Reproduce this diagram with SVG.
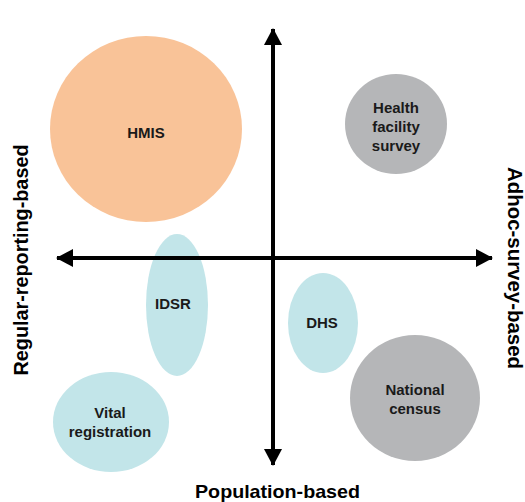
<svg xmlns="http://www.w3.org/2000/svg" width="525" height="502" viewBox="0 0 525 502">
<defs>
<marker id="ah" markerUnits="userSpaceOnUse" markerWidth="17" markerHeight="18" refX="16" refY="9" orient="auto-start-reverse">
<path d="M0,0 L17,9 L0,18 Z" fill="#000"/>
</marker>
</defs>
<style>
text{font-family:"Liberation Sans",Arial,sans-serif;font-weight:bold;fill:#1a1a1a;text-anchor:middle}
.n{font-size:15px}
.ax{font-size:18.5px;fill:#000}
.side{font-size:20px;fill:#000}
.orange{fill:#F9C398}
.gray{fill:#B5B6B8}
.blue{fill:#C2E5E9}
</style>
<rect width="525" height="502" fill="#fff"/>
<g id="nodes">
<g id="hmis"><ellipse class="orange" cx="146" cy="129" rx="96" ry="93"/><text class="n" x="146" y="138">HMIS</text></g>
<g id="hfs"><ellipse class="gray" cx="396" cy="124" rx="51" ry="50"/><text class="n" x="396" y="113">Health</text><text class="n" x="396" y="132">facility</text><text class="n" x="396" y="151">survey</text></g>
<g id="idsr"><ellipse class="blue" cx="177" cy="305" rx="31" ry="71"/><text class="n" x="173" y="309">IDSR</text></g>
<g id="dhs"><ellipse class="blue" cx="323" cy="323" rx="35" ry="50"/><text class="n" x="322" y="328">DHS</text></g>
<g id="census"><ellipse class="gray" cx="415" cy="398" rx="65" ry="63"/><text class="n" x="415" y="395">National</text><text class="n" x="415" y="414">census</text></g>
<g id="vital"><ellipse class="blue" cx="111" cy="422" rx="58" ry="50"/><text class="n" x="110" y="418">Vital</text><text class="n" x="110" y="437">registration</text></g>
</g>
<g id="connectors" stroke="#000" stroke-width="4">
<line x1="273" y1="465" x2="273" y2="29" marker-end="url(#ah)" marker-start="url(#ah)"/>
<line x1="57" y1="258" x2="492" y2="258" marker-end="url(#ah)" marker-start="url(#ah)"/>
</g>
<g id="labels">
<text class="ax" x="277.5" y="498" textLength="165" lengthAdjust="spacingAndGlyphs">Population-based</text>
<text class="side" transform="translate(28,260) rotate(-90)" x="0" y="0" textLength="231" lengthAdjust="spacingAndGlyphs">Regular-reporting-based</text>
<text class="side" transform="translate(507.5,268) rotate(90)" x="0" y="0" textLength="202" lengthAdjust="spacingAndGlyphs">Adhoc-survey-based</text>
</g>
</svg>
